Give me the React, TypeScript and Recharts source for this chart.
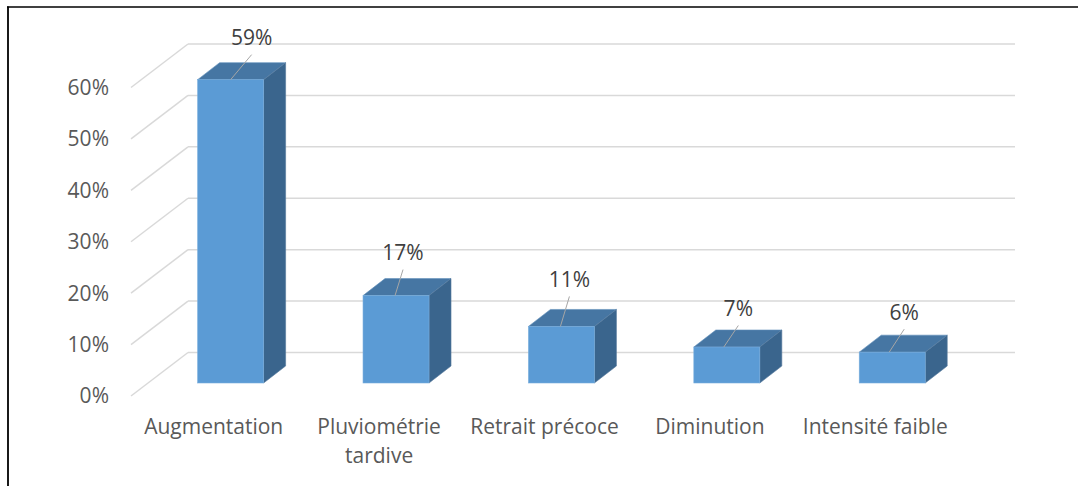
import React from 'react';
import { BarChart, Bar, XAxis, YAxis, CartesianGrid } from 'recharts';

const categories = ['Augmentation', 'Pluviométrie tardive', 'Retrait précoce', 'Diminution', 'Intensité faible'];
const shares = [0.59, 0.17, 0.11, 0.07, 0.06];
const yTicks = [0, 0.1, 0.2, 0.3, 0.4, 0.5, 0.6];

// label nudges (layout only): [dx, dy, leaderStartDx]
const labelNudges = [
  [21, -42, 0],
  [7, -43, -1],
  [8, -47, -1],
  [11.5, -38.5, -3],
  [12, -40, -3],
];

const data = categories.map((c, i) => ({ category: c, share: shares[i] }));

const FONT = '"Open Sans", "Liberation Sans", sans-serif';
const W = 1078;
const H = 486;
const Y_AXIS_W = 70;
const PLOT_LEFT = 131;
const PLOT_RIGHT = 958;
const PLOT_TOP = 87.5;
const PLOT_BOTTOM = 396;
const FLOOR_DX = 57;
const FLOOR_DY = 43.5;
const BAR_OFF_X = 17;
const BAR_OFF_Y = 13;
const BAR_DX = 22;
const BAR_DY = 17;
const FRONT = '#5B9BD5';
const TOP = '#4676A3';
const SIDE = '#3A658D';
const GRID = '#D9D9D9';

const GridLine = (p: any) => {
  const { x1, x2, y1 } = p;
  return (
    <g key={p.key}>
      <line x1={x1} y1={y1} x2={x1 + FLOOR_DX} y2={y1 - FLOOR_DY} stroke={GRID} strokeWidth={1.5} />
      <line x1={x1 + FLOOR_DX} y1={y1 - FLOOR_DY} x2={x2 + FLOOR_DX} y2={y1 - FLOOR_DY} stroke={GRID} strokeWidth={1.5} />
    </g>
  );
};

const Box3D = (p: any) => {
  const { x, y, width, height, payload } = p;
  const idx = categories.indexOf(payload.category);
  const fx = x + BAR_OFF_X;
  const fy = y - BAR_OFF_Y;
  const n = labelNudges[idx] || [10, -40, 0];
  const cx = fx + width / 2;
  const lx = cx + n[0];
  const ly = fy + n[1];
  return (
    <g>
      <polygon
        points={`${fx},${fy} ${fx + BAR_DX},${fy - BAR_DY} ${fx + width + BAR_DX},${fy - BAR_DY} ${fx + width},${fy}`}
        fill={TOP}
        stroke="#5F8EBB"
        strokeWidth={0.6}
      />
      <polygon
        points={`${fx + width},${fy} ${fx + width + BAR_DX},${fy - BAR_DY} ${fx + width + BAR_DX},${fy + height - BAR_DY} ${fx + width},${fy + height}`}
        fill={SIDE}
        stroke="#55799C"
        strokeWidth={0.6}
      />
      <rect x={fx} y={fy} width={width} height={height} fill={FRONT} stroke="#7AAEDD" strokeWidth={0.6} />
      <line x1={cx + n[2]} y1={fy} x2={lx} y2={ly + 17} stroke="#A6A6A6" strokeWidth={1} />
      <text
        x={lx}
        y={ly}
        dy="0.35em"
        textAnchor="middle"
        fill="#404040"
        fontSize={21}
        fontFamily={FONT}
      >
        {Math.round(payload.share * 100)}%
      </text>
    </g>
  );
};

const YTick = (p: any) => (
  <text
    x={PLOT_LEFT - 22}
    y={p.y}
    dy="0.35em"
    textAnchor="end"
    fill="#595959"
    fontSize={21}
    fontFamily={FONT}
  >
    {Math.round(p.payload.value * 100)}%
  </text>
);

const XTick = (p: any) => {
  const label = String(p.payload.value);
  const lines = label.length > 16 ? label.split(' ') : [label];
  return (
    <text
      x={p.x}
      y={PLOT_BOTTOM + 31}
      textAnchor="middle"
      fill="#595959"
      fontSize={21}
      fontFamily={FONT}
    >
      {lines.map((l, i) => (
        <tspan key={i} x={p.x} dy={i === 0 ? '0.35em' : 29}>
          {l}
        </tspan>
      ))}
    </text>
  );
};

export default function App() {
  return (
    <div style={{ position: 'relative', width: W, height: H, background: '#fff', overflow: 'hidden' }}>
      <style>{'body{margin:0;background:#fff}'}</style>
      <BarChart
        width={W}
        height={H}
        data={data}
        barCategoryGap="30%"
        margin={{ top: PLOT_TOP, right: W - PLOT_RIGHT, bottom: 0, left: PLOT_LEFT - Y_AXIS_W }}
      >
        <CartesianGrid horizontal={GridLine} vertical={false} />
        <XAxis
          dataKey="category"
          height={H - PLOT_BOTTOM}
          axisLine={false}
          tickLine={false}
          interval={0}
          tick={XTick}
        />
        <YAxis
          width={Y_AXIS_W}
          domain={[0, 0.6]}
          ticks={yTicks}
          interval={0}
          axisLine={false}
          tickLine={false}
          tick={YTick}
        />
        <Bar dataKey="share" isAnimationActive={false} shape={Box3D} />
      </BarChart>
      <svg width={W} height={H} style={{ position: 'absolute', left: 0, top: 0, pointerEvents: 'none' }}>
        <line x1={8} y1={6.5} x2={8} y2={H} stroke="#000" strokeWidth={1.8} />
        <line x1={7} y1={7} x2={W} y2={7} stroke="#000" strokeWidth={1.6} />
      </svg>
    </div>
  );
}
